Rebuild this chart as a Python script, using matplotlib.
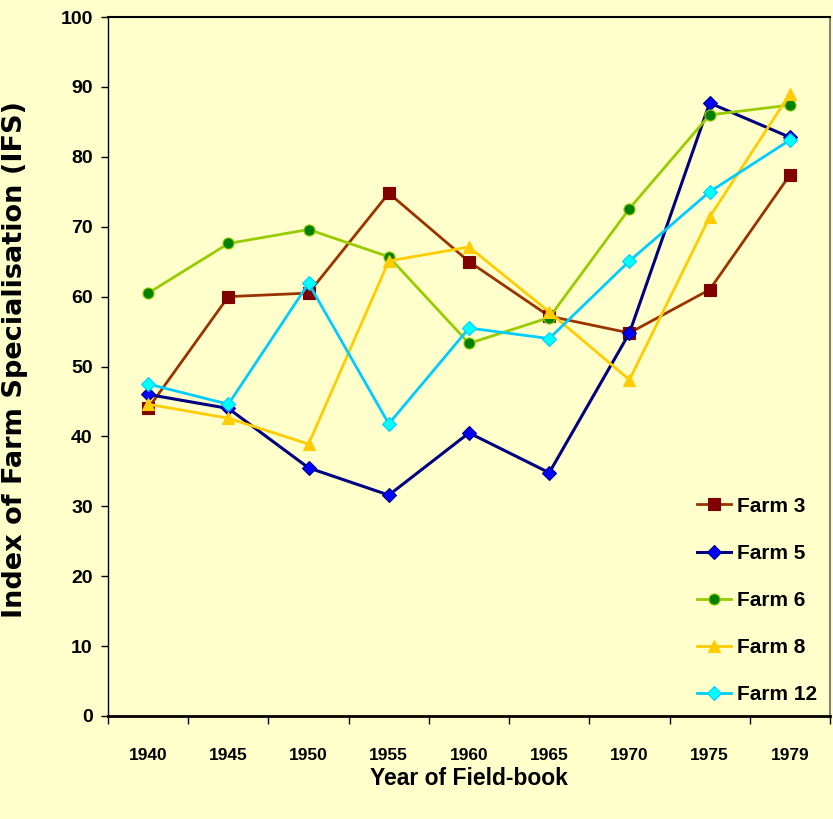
import matplotlib.pyplot as plt
import numpy as np

years = ["1940", "1945", "1950", "1955", "1960", "1965", "1970", "1975", "1979"]
farm3 = [44.0, 60.0, 60.5, 74.8, 65.0, 57.2, 54.8, 61.0, 77.4]
farm5 = [46.0, 44.0, 35.5, 31.6, 40.5, 34.8, 54.8, 87.7, 82.8]
farm6 = [60.5, 67.6, 69.6, 65.7, 53.3, 57.0, 72.6, 86.0, 87.4]
farm8 = [44.6, 42.6, 38.9, 65.1, 67.1, 57.8, 48.1, 71.4, 89.0]
farm12 = [47.5, 44.6, 61.9, 41.8, 55.5, 54.0, 65.1, 75.0, 82.4]

bg = "#FFFFCC"
font = ["Liberation Sans", "DejaVu Sans"]


def main():
    fig = plt.figure(figsize=(8.33, 8.19), dpi=100, facecolor=bg)
    ax = fig.add_axes([0.1297, 0.1258, 0.8667, 0.8534], facecolor=bg)
    x = np.arange(len(years))

    series = [
        ("Farm 3", farm3, "#993300", "s", "#800000", "#800000", 8, 2.0),
        ("Farm 5", farm5, "#000080", "D", "#0000FF", "#000080", 7, 2.2),
        ("Farm 6", farm6, "#99CC00", "o", "#008000", "#99CC00", 8, 2.0),
        ("Farm 8", farm8, "#FFCC00", "^", "#FFCC00", "#FFCC00", 9, 2.0),
        ("Farm 12", farm12, "#00CCFF", "D", "#00FFFF", "#00CCFF", 7, 2.0),
    ]
    for label, vals, lc, mk, mfc, mec, ms, lw in series:
        ax.plot(x, vals, color=lc, lw=lw, marker=mk, markersize=ms,
                markerfacecolor=mfc, markeredgecolor=mec, markeredgewidth=0.8,
                label=label)

    ax.set_xlim(-0.5, len(years) - 0.5)
    ax.set_ylim(0, 100)
    ax.set_yticks(range(0, 101, 10))
    ax.set_xticks(x)
    ax.set_xticklabels(years)
    ax.set_xticks(np.arange(-0.5, len(years), 1), minor=True)
    ax.tick_params(axis="x", which="major", length=0, pad=23)
    ax.tick_params(axis="x", which="minor", length=6, width=1, direction="out")
    ax.tick_params(axis="y", length=5, width=1, direction="out", pad=6)
    for t in ax.get_xticklabels():
        t.set_family(font)
        t.set_fontweight("bold")
        t.set_fontsize(12.5)
    for t in ax.get_yticklabels():
        t.set_family(font)
        t.set_fontweight("bold")
        t.set_fontsize(14)

    ax.spines["bottom"].set_linewidth(2)
    ax.spines["left"].set_linewidth(1)
    ax.spines["top"].set_linewidth(1.5)
    ax.spines["right"].set_color("#808080")
    ax.spines["right"].set_linewidth(1.5)

    ax.set_xlabel("Year of Field-book", family=font, fontweight="bold",
                  fontsize=16.5)
    ax.xaxis.set_label_coords(0.5, -0.073)
    ax.set_ylabel("Index of Farm Specialisation (IFS)", family="DejaVu Sans",
                  fontweight="bold", fontsize=19.5)
    ax.yaxis.set_label_coords(-0.111, 0.51)

    ax.legend(loc="lower right", frameon=False, handlelength=1.6,
              labelspacing=1.35, handletextpad=0.3,
              bbox_to_anchor=(1.008, -0.01),
              prop={"family": font, "weight": "bold", "size": 15})

    fig.savefig("out.png", dpi=100, facecolor=bg)


if __name__ == "__main__":
    main()
